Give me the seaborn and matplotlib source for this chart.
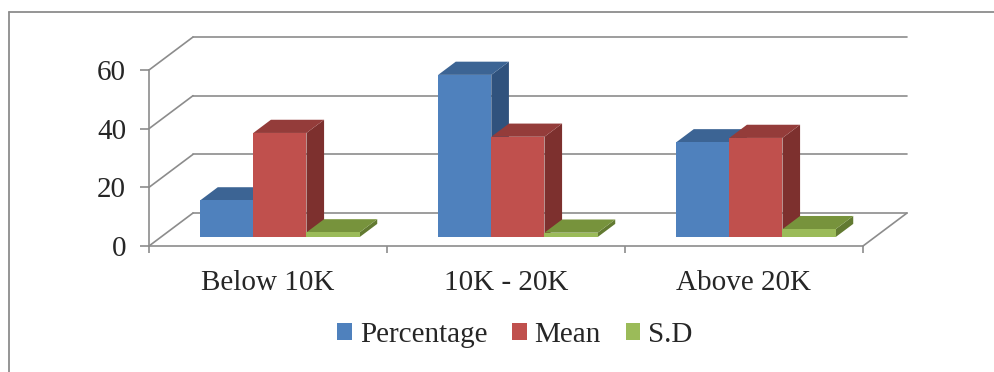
import numpy as np
import pandas as pd
import matplotlib
matplotlib.use('Agg')
import matplotlib.pyplot as plt
from matplotlib.patches import Polygon, Patch
from matplotlib.transforms import Affine2D
import seaborn as sns

# --- Data ---
CATEGORIES = ['Below 10K', '10K - 20K', 'Above 20K']
SERIES = ['Percentage', 'Mean', 'S.D']
PERCENTAGE = [12.5, 55.3, 32.3]
MEAN = [35.5, 34.2, 33.8]
SD = [1.6, 1.5, 2.7]
Y_TICKS = [0, 20, 40, 60]

# --- Style ---
FRONT = ['#4F81BD', '#C0504D', '#9BBB59']
TOP = ['#3C6494', '#943C3A', '#77933C']
SIDE = ['#30527D', '#7D302E', '#627A31']
GRID = '#8C8C8C'
FS = 21

# depth of the 3D floor in data units, bar placement inside it
DDX, DDY = 0.185, 11.25
F0, F1 = 0.27, 0.67

df = pd.DataFrame({
    'income': CATEGORIES * 3,
    'measure': np.repeat(SERIES, len(CATEGORIES)),
    'value': PERCENTAGE + MEAN + SD,
})

sns.set_style('white')
plt.rcParams['font.family'] = ['Liberation Serif', 'DejaVu Serif']

fig = plt.figure(figsize=(9.94, 3.72), dpi=100)
ax = fig.add_axes([149 / 994, 126 / 372, 714 / 994, 176 / 372])

sns.barplot(data=df, x='income', y='value', hue='measure', hue_order=SERIES,
            palette=FRONT, saturation=1, width=0.67, linewidth=0,
            legend=False, ax=ax)

ax.set_xlim(-0.5, 2.5)
ax.set_ylim(0, 60)

# back wall gridlines and left wall diagonals
for v in Y_TICKS:
    ax.plot([-0.5, -0.5 + DDX], [v, v + DDY], color=GRID, lw=1.2, zorder=1, clip_on=False)
    ax.plot([-0.5 + DDX, 2.5 + DDX], [v + DDY, v + DDY], color=GRID, lw=1.2, zorder=1, clip_on=False)
ax.plot([2.5, 2.5 + DDX], [0, DDY], color=GRID, lw=1.2, zorder=1, clip_on=False)

# turn the flat bars into boxes
shift = Affine2D().translate(F0 * DDX, F0 * DDY) + ax.transData
bx, by = (F1 - F0) * DDX, (F1 - F0) * DDY
for h, cont in enumerate(ax.containers):
    for c, bar in enumerate(cont):
        base = 10 + c * 3 + h
        x0, w, top = bar.get_x(), bar.get_width(), bar.get_height()
        bar.set_transform(shift)
        bar.set_clip_on(False)
        bar.set_zorder(base + 0.3)
        side = Polygon([(x0 + w, 0), (x0 + w + bx, by), (x0 + w + bx, top + by), (x0 + w, top)],
                       closed=True, fc=SIDE[h], ec='none', transform=shift, zorder=base + 0.1, clip_on=False)
        lid = Polygon([(x0, top), (x0 + bx, top + by), (x0 + w + bx, top + by), (x0 + w, top)],
                      closed=True, fc=TOP[h], ec='none', transform=shift, zorder=base + 0.2, clip_on=False)
        ax.add_patch(side)
        ax.add_patch(lid)

# axes look
for s in ['top', 'right']:
    ax.spines[s].set_visible(False)
for s in ['left', 'bottom']:
    ax.spines[s].set_color(GRID)
    ax.spines[s].set_linewidth(1.2)
    ax.spines[s].set_zorder(2)

ax.set_yticks(Y_TICKS)
ax.set_xticks(range(len(CATEGORIES)))
ax.set_xticklabels(CATEGORIES)
ax.set_xticks([-0.5, 0.5, 1.5, 2.5], minor=True)
ax.tick_params(axis='y', direction='out', length=6.5, width=1.2, color=GRID,
               labelsize=FS, pad=10, left=True)
ax.tick_params(axis='x', which='major', length=0, labelsize=FS, pad=17)
ax.tick_params(axis='x', which='minor', direction='out', length=5, width=1.2, color=GRID, bottom=True)
ax.set_xlabel('')
ax.set_ylabel('')
ax.patch.set_visible(False)

handles = [Patch(fc=c, ec='none') for c in FRONT]
fig.legend(handles, SERIES, loc='center', bbox_to_anchor=(515 / 994, 1 - 335 / 372),
           ncol=3, frameon=False, fontsize=FS, handlelength=0.5, handleheight=0.5,
           handletextpad=0.27, columnspacing=0.85, borderaxespad=0, borderpad=0)

# outer chart border (only left and top visible in the crop)
fig.add_artist(plt.Line2D([9 / 994, 9 / 994], [0, 1 - 12 / 372], color=GRID, lw=1.3))
fig.add_artist(plt.Line2D([9 / 994, 1], [1 - 12 / 372, 1 - 12 / 372], color=GRID, lw=1.3))

fig.savefig('out.png', dpi=100, facecolor='white')
